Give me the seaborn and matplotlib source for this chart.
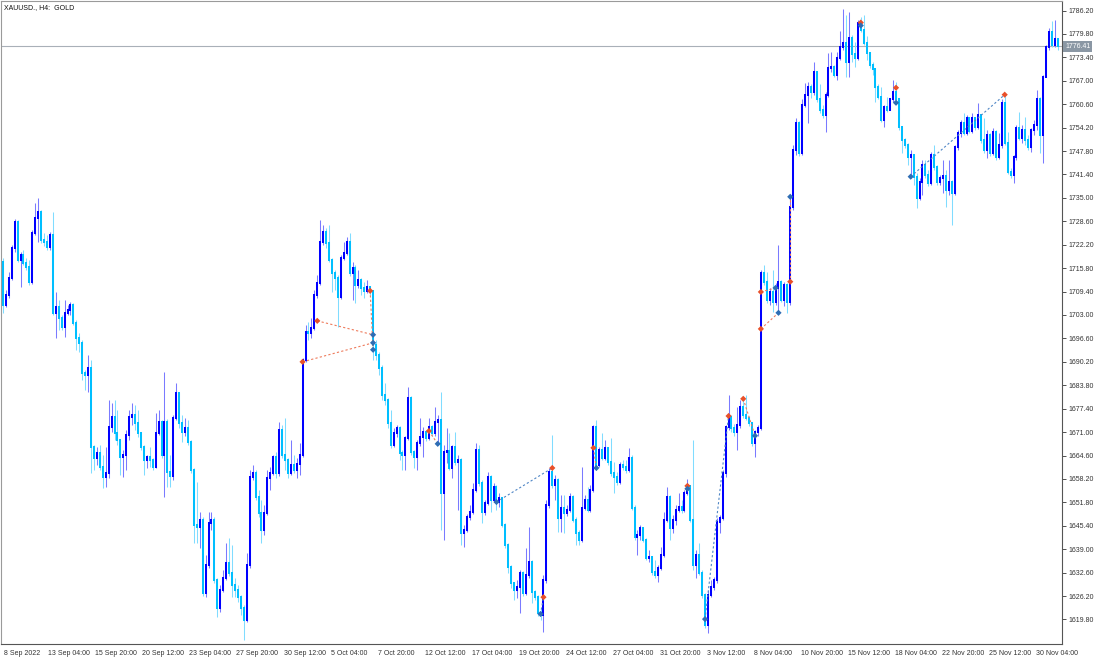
import numpy as np
import pandas as pd
import seaborn as sns
import matplotlib.pyplot as plt
from matplotlib.transforms import ScaledTranslation, blended_transform_factory

sns.set_theme(style='white')
plt.rcParams['font.family'] = ['Liberation Sans', 'DejaVu Sans']

symbol_title = 'XAUUSD., H4:  GOLD'
last_price = 1776.41
first_open = 1717.5

# H4 closes, 8 Sep 16:00 .. 1 Dec 12:00
closes = [
    1705.8, 1708.5, 1713.2, 1721.4, 1728.5, 1718.1, 1719.5, 1717.3, 1716.2, 1712.1,
    1725.5, 1729.6, 1731.2, 1723.6, 1723.0, 1721.6, 1724.9, 1703.6, 1705.2, 1702.2,
    1699.8, 1703.6, 1704.4, 1705.8, 1700.9, 1696.8, 1695.4, 1687.2, 1686.6, 1688.5,
    1666.9, 1663.9, 1665.3, 1661.5, 1658.7, 1659.8, 1672.4, 1675.2, 1670.8, 1668.9,
    1664.2, 1664.8, 1670.2, 1675.2, 1675.7, 1673.5, 1670.8,
    1666.9, 1663.4, 1664.2, 1663.4, 1661.5, 1670.8, 1673.8, 1664.8, 1673.8, 1660.1,
    1659.0, 1674.9, 1681.7, 1673.5, 1671.0, 1672.1, 1668.3, 1660.7, 1645.6, 1645.1,
    1647.0, 1627.0, 1634.7, 1646.2, 1647.0, 1630.6, 1622.9, 1627.8, 1631.1, 1635.2,
    1632.5, 1629.2, 1627.8, 1625.9, 1622.9, 1619.6, 1634.7, 1658.7, 1659.8, 1653.3,
    1648.9, 1644.2, 1648.9, 1658.5,
    1659.8, 1664.2, 1659.8, 1671.6, 1664.8, 1663.4, 1659.8, 1662.0, 1660.7, 1662.3,
    1664.8, 1690.7, 1698.4, 1698.1, 1699.5, 1708.5, 1711.8, 1723.0, 1725.7, 1722.7,
    1718.1, 1714.5, 1713.2, 1708.0, 1718.6, 1720.0, 1723.0, 1714.5, 1715.9, 1711.3,
    1712.6, 1710.4, 1709.6, 1710.7, 1709.6, 1694.8, 1692.1, 1688.5, 1681.2, 1679.8,
    1673.5, 1667.5, 1670.8, 1672.1,
    1665.3, 1664.8, 1669.4, 1680.3, 1665.6, 1664.2, 1668.0, 1669.7, 1671.0, 1669.4,
    1672.4, 1670.8, 1673.8, 1674.3, 1654.4, 1665.6, 1665.8, 1661.2, 1666.9, 1662.8,
    1663.4, 1643.4, 1644.2, 1647.8, 1649.2, 1655.2, 1666.1, 1657.1, 1649.2, 1651.6,
    1658.7, 1652.5, 1656.0, 1651.9, 1653.0, 1645.6, 1640.1, 1634.1, 1629.7, 1627.8,
    1628.7,
    1632.5, 1627.0, 1631.9, 1635.5, 1627.3, 1625.9, 1621.5, 1621.0, 1630.6, 1651.1,
    1660.1, 1656.6, 1657.9, 1647.5, 1650.3, 1648.9, 1649.7, 1653.3, 1647.0, 1643.4,
    1641.5, 1650.3, 1652.5, 1649.7, 1655.2, 1672.4, 1662.0, 1666.1, 1663.9, 1666.7,
    1662.8, 1659.8, 1658.7, 1657.4, 1662.0, 1661.5, 1660.7, 1663.9, 1650.3, 1642.3,
    1642.9, 1644.8, 1641.5, 1636.6, 1636.9, 1632.8,
    1631.9, 1633.9, 1637.4, 1647.0, 1653.3, 1644.8, 1647.0, 1649.7, 1650.5, 1649.7,
    1654.4, 1656.3, 1647.0, 1634.7, 1637.4, 1632.5, 1626.5, 1618.3, 1626.5, 1628.7,
    1630.6, 1646.4, 1647.5, 1659.8, 1672.4, 1675.2, 1672.1, 1671.0, 1672.9, 1677.9,
    1675.7, 1674.9, 1673.5, 1668.0, 1671.0, 1672.1, 1714.5,
    1712.1, 1707.2, 1709.3, 1706.6, 1710.4, 1712.1, 1707.2, 1711.3, 1706.6, 1732.6,
    1748.2, 1755.6, 1747.4, 1760.5, 1763.2, 1765.4, 1763.8, 1769.5, 1761.9, 1759.1,
    1757.7, 1763.2, 1770.6, 1770.9, 1768.7, 1773.3, 1776.3, 1777.4, 1772.2, 1778.8,
    1774.2, 1773.3, 1782.9, 1781.0, 1777.4, 1774.7, 1771.4, 1770.1, 1765.4, 1762.7,
    1756.4, 1759.9, 1759.1, 1761.9, 1763.8, 1761.9, 1754.5, 1750.9, 1749.5, 1746.3,
    1746.8, 1740.8,
    1735.0, 1739.4, 1744.1, 1741.3, 1739.1, 1746.8, 1743.5, 1739.4, 1740.5, 1741.1,
    1737.2, 1739.4, 1736.4, 1749.0, 1752.8, 1755.6, 1752.8, 1756.9, 1753.4, 1756.9,
    1754.5, 1757.7, 1750.9, 1748.2, 1752.3, 1747.4, 1753.1, 1746.3, 1749.5, 1761.0,
    1750.1, 1742.2, 1741.3, 1746.3, 1754.2, 1751.5, 1753.6, 1750.9, 1749.0, 1753.6,
    1755.0, 1761.9, 1752.3, 1768.1, 1776.1, 1780.2, 1776.9, 1778.3, 1776.4,
]

highs = [
    1718.6, 1709.9, 1714.8, 1722.2, 1729.3, 1729.0, 1720.3, 1720.8, 1718.6, 1718.1,
    1726.3, 1733.7, 1735.0, 1731.8, 1725.5, 1724.9, 1725.7, 1731.2, 1709.3, 1707.1,
    1703.0, 1707.1, 1705.8, 1706.6, 1706.3, 1701.7, 1698.1, 1696.2, 1688.0, 1692.1,
    1690.7, 1667.5, 1666.9, 1667.5, 1664.8, 1666.9, 1679.8, 1679.0, 1679.8, 1677.1,
    1668.9, 1666.1, 1671.6, 1677.1, 1679.0, 1678.4, 1677.1,
    1671.0, 1667.5, 1664.8, 1666.9, 1663.9, 1676.2, 1677.1, 1674.3, 1687.5, 1674.5,
    1664.8, 1675.7, 1684.4, 1681.7, 1675.7, 1674.9, 1674.3, 1668.9, 1661.2, 1657.4,
    1649.2, 1647.8, 1637.4, 1649.2, 1649.2, 1647.8, 1631.1, 1629.2, 1633.3, 1640.7,
    1642.1, 1640.1, 1631.1, 1629.2, 1626.5, 1623.7, 1638.0, 1660.7, 1662.0, 1660.7,
    1655.2, 1652.4, 1651.1, 1660.7,
    1661.5, 1664.8, 1665.6, 1673.8, 1673.0, 1674.9, 1663.9, 1668.9, 1664.8, 1663.9,
    1668.0, 1691.3, 1700.3, 1701.1, 1702.2, 1709.9, 1714.0, 1729.0, 1727.7, 1726.8,
    1727.7, 1718.6, 1715.4, 1714.0, 1719.5, 1723.0, 1724.4, 1725.5, 1717.5, 1716.7,
    1715.4, 1713.2, 1712.1, 1712.6, 1711.0, 1709.9, 1696.2, 1692.9, 1689.4, 1684.4,
    1680.3, 1677.1, 1672.1, 1673.0,
    1672.7, 1666.1, 1669.9, 1683.4, 1680.9, 1666.1, 1668.9, 1674.9, 1672.4, 1671.6,
    1674.9, 1673.0, 1677.9, 1675.7, 1682.0, 1667.5, 1672.1, 1670.8, 1667.5, 1671.0,
    1664.8, 1663.9, 1645.6, 1648.6, 1651.1, 1657.1, 1668.0, 1667.5, 1657.9, 1652.5,
    1660.1, 1659.3, 1657.1, 1656.6, 1654.4, 1653.3, 1646.2, 1640.7, 1634.7, 1629.7,
    1630.6,
    1633.3, 1633.0, 1639.3, 1645.1, 1636.0, 1627.8, 1626.5, 1622.9, 1631.9, 1652.5,
    1661.2, 1670.2, 1659.3, 1658.5, 1653.8, 1653.8, 1651.1, 1654.4, 1653.8, 1647.8,
    1644.2, 1661.5, 1653.8, 1656.0, 1656.6, 1673.0, 1674.3, 1666.9, 1670.8, 1668.9,
    1666.9, 1669.4, 1662.8, 1660.1, 1662.8, 1663.4, 1663.4, 1666.7, 1664.8, 1651.1,
    1644.2, 1645.6, 1644.8, 1642.1, 1638.8, 1637.1,
    1636.0, 1634.7, 1639.6, 1649.2, 1656.0, 1653.8, 1648.3, 1651.1, 1654.4, 1652.5,
    1655.2, 1658.2, 1656.6, 1668.9, 1638.8, 1640.7, 1633.3, 1627.0, 1627.8, 1630.6,
    1631.4, 1647.5, 1648.3, 1660.7, 1673.0, 1681.2, 1675.7, 1673.2, 1677.9, 1679.8,
    1680.1, 1681.2, 1675.4, 1673.8, 1671.6, 1673.0, 1715.4,
    1716.7, 1714.8, 1710.4, 1715.4, 1711.8, 1722.2, 1712.6, 1712.1, 1711.8, 1735.3,
    1749.5, 1756.9, 1756.0, 1761.9, 1766.5, 1766.8, 1766.0, 1772.2, 1769.5, 1766.0,
    1760.5, 1764.0, 1774.7, 1775.0, 1771.4, 1775.0, 1780.5, 1786.5, 1785.1, 1785.9,
    1779.5, 1777.7, 1783.7, 1784.3, 1785.1, 1779.1, 1775.0, 1772.2, 1770.1, 1766.0,
    1765.4, 1760.5, 1762.7, 1762.4, 1767.3, 1766.8, 1762.4, 1754.5, 1751.5, 1750.1,
    1748.2, 1747.0,
    1741.9, 1740.5, 1745.4, 1745.4, 1742.7, 1747.6, 1749.5, 1744.1, 1741.3, 1745.4,
    1742.7, 1745.4, 1740.0, 1749.5, 1753.6, 1756.4, 1758.3, 1757.7, 1756.9, 1758.3,
    1756.9, 1761.0, 1758.0, 1756.9, 1753.6, 1752.8, 1754.2, 1753.6, 1752.8, 1761.9,
    1763.2, 1753.1, 1743.2, 1746.8, 1755.0, 1758.6, 1755.0, 1757.2, 1752.3, 1754.2,
    1756.4, 1764.6, 1762.7, 1768.7, 1776.9, 1781.5, 1783.2, 1783.7, 1778.8,
]

lows = [
    1703.6, 1705.2, 1707.7, 1712.6, 1720.3, 1717.5, 1710.7, 1716.7, 1715.4, 1711.3,
    1711.5, 1724.9, 1723.0, 1722.7, 1721.9, 1720.8, 1720.8, 1703.0, 1696.8, 1698.9,
    1698.9, 1697.0, 1703.0, 1703.0, 1700.3, 1693.5, 1692.9, 1685.3, 1682.5, 1682.0,
    1659.8, 1660.7, 1662.0, 1660.7, 1655.7, 1656.0, 1658.5, 1671.0, 1668.9, 1667.5,
    1659.3, 1658.7, 1660.7, 1668.9, 1672.9, 1671.6, 1669.7,
    1666.1, 1659.3, 1661.2, 1661.5, 1660.7, 1661.2, 1670.2, 1663.9, 1653.3, 1656.0,
    1656.0, 1657.9, 1674.3, 1672.1, 1668.3, 1669.9, 1667.5, 1659.8, 1640.7, 1640.7,
    1639.3, 1626.2, 1625.9, 1633.9, 1644.2, 1629.7, 1620.5, 1621.8, 1627.3, 1630.6,
    1631.7, 1625.9, 1625.9, 1624.6, 1621.0, 1614.2, 1619.1, 1633.9, 1657.9, 1652.4,
    1647.8, 1640.7, 1642.9, 1648.4,
    1655.2, 1659.3, 1658.5, 1659.0, 1663.9, 1660.7, 1658.5, 1659.3, 1659.8, 1658.5,
    1659.3, 1664.2, 1690.2, 1696.2, 1696.8, 1698.9, 1707.7, 1711.3, 1722.2, 1721.4,
    1717.5, 1709.3, 1709.9, 1699.8, 1707.4, 1718.1, 1719.5, 1713.7, 1707.2, 1706.3,
    1710.4, 1708.5, 1707.7, 1709.1, 1708.5, 1690.7, 1690.7, 1686.6, 1679.8, 1678.4,
    1672.1, 1666.7, 1666.9, 1669.7,
    1663.4, 1660.7, 1660.7, 1668.9, 1664.8, 1661.2, 1660.7, 1667.2, 1664.2, 1668.6,
    1668.9, 1669.9, 1669.9, 1667.5, 1644.2, 1641.5, 1662.6, 1660.7, 1658.5, 1662.0,
    1649.7, 1640.1, 1639.6, 1643.7, 1647.0, 1648.6, 1654.6, 1656.3, 1646.2, 1648.4,
    1651.0, 1649.2, 1652.0, 1649.7, 1650.5, 1645.1, 1639.3, 1632.5, 1628.4, 1625.1,
    1625.6,
    1621.5, 1626.2, 1626.5, 1631.1, 1624.3, 1625.1, 1620.7, 1619.6, 1616.3, 1629.7,
    1650.3, 1655.7, 1652.5, 1643.7, 1643.7, 1643.4, 1648.1, 1649.2, 1646.4, 1640.1,
    1640.1, 1641.0, 1649.7, 1649.2, 1649.2, 1654.6, 1660.7, 1661.5, 1663.4, 1663.4,
    1662.0, 1659.0, 1654.4, 1656.6, 1656.8, 1660.7, 1659.8, 1660.1, 1649.7, 1641.5,
    1637.4, 1641.5, 1640.9, 1636.0, 1635.5, 1631.9,
    1631.1, 1630.0, 1633.3, 1636.9, 1646.4, 1641.5, 1643.4, 1645.6, 1649.2, 1648.9,
    1649.2, 1653.8, 1646.4, 1633.3, 1631.1, 1631.9, 1625.6, 1617.4, 1616.1, 1625.9,
    1627.8, 1629.7, 1643.4, 1647.0, 1658.7, 1671.6, 1671.0, 1669.9, 1666.1, 1672.1,
    1674.9, 1674.3, 1672.7, 1667.2, 1664.2, 1669.9, 1671.6,
    1711.3, 1706.3, 1705.8, 1703.9, 1705.8, 1703.6, 1706.6, 1705.5, 1703.6, 1705.8,
    1731.8, 1746.8, 1746.5, 1746.8, 1759.7, 1755.6, 1762.4, 1763.2, 1761.3, 1758.3,
    1756.9, 1753.1, 1762.7, 1769.5, 1767.9, 1767.3, 1772.8, 1775.5, 1767.9, 1768.1,
    1772.2, 1770.9, 1772.8, 1780.2, 1776.9, 1772.8, 1770.6, 1768.7, 1761.3, 1761.9,
    1755.8, 1754.5, 1758.6, 1759.1, 1761.3, 1761.0, 1753.6, 1747.4, 1748.7, 1744.1,
    1740.5, 1738.6,
    1732.3, 1734.5, 1735.9, 1740.5, 1738.3, 1738.6, 1742.7, 1738.6, 1738.6, 1736.4,
    1732.6, 1735.9, 1727.7, 1735.9, 1748.2, 1751.7, 1752.3, 1752.3, 1752.8, 1752.8,
    1753.6, 1753.9, 1750.1, 1747.4, 1746.0, 1746.5, 1746.8, 1745.4, 1745.7, 1748.7,
    1749.5, 1741.6, 1740.5, 1739.1, 1745.4, 1750.9, 1750.1, 1749.5, 1748.2, 1747.6,
    1752.3, 1753.6, 1747.4, 1744.6, 1767.9, 1775.5, 1776.1, 1776.3, 1775.5,
]

date_labels = ['8 Sep 2022', '13 Sep 04:00', '15 Sep 20:00', '20 Sep 12:00', '23 Sep 04:00',
               '27 Sep 20:00', '30 Sep 12:00', '5 Oct 04:00', '7 Oct 20:00', '12 Oct 12:00',
               '17 Oct 04:00', '19 Oct 20:00', '24 Oct 12:00', '27 Oct 04:00', '31 Oct 20:00',
               '3 Nov 12:00', '8 Nov 04:00', '10 Nov 20:00', '15 Nov 12:00', '18 Nov 04:00',
               '22 Nov 20:00', '25 Nov 12:00', '30 Nov 04:00']
date_label_bars = [0, 15, 31, 47, 63, 79, 95, 111, 127, 143, 159, 175, 191, 207, 223,
                   239, 255, 271, 287, 303, 319, 335, 351]
price_ticks = [1619.80, 1626.20, 1632.60, 1639.00, 1645.40, 1651.80, 1658.20, 1664.60,
               1671.00, 1677.40, 1683.80, 1690.20, 1696.60, 1703.00, 1709.40, 1715.80,
               1722.20, 1728.60, 1735.00, 1741.40, 1747.80, 1754.20, 1760.60, 1767.00,
               1773.40, 1779.80, 1786.20]

# trade history arrows
sell_bars = [102, 107, 125, 145, 184, 187, 201, 233, 247, 252, 258, 258, 268, 292, 304, 341]
sell_prices = [1690.2, 1701.4, 1709.6, 1671.3, 1625.9, 1661.2, 1666.7, 1656.3, 1675.4,
               1680.1, 1709.3, 1699.2, 1712.1, 1782.9, 1765.1, 1763.2]
buy_bars = [126, 126, 126, 148, 168, 183, 202, 233, 239, 256, 263, 264, 268, 292, 304, 309]
buy_prices = [1697.6, 1695.4, 1693.5, 1667.8, 1651.9, 1621.3, 1661.2, 1655.5, 1619.9,
              1670.0, 1710.4, 1703.6, 1735.3, 1782.1, 1761.0, 1740.8]

line_from_bar = [102, 107, 125, 145, 168, 183, 201, 239, 252, 258, 258, 268, 309]
line_from_price = [1690.2, 1701.4, 1709.6, 1671.3, 1651.9, 1621.3, 1666.7, 1619.9,
                   1680.1, 1699.2, 1709.3, 1712.1, 1740.8]
line_to_bar = [126, 126, 126, 148, 187, 184, 202, 247, 256, 264, 263, 268, 341]
line_to_price = [1695.4, 1697.6, 1693.5, 1667.8, 1661.2, 1625.9, 1661.2, 1675.4,
                 1670.0, 1703.6, 1710.4, 1735.3, 1763.2]
line_kind = ['sell', 'sell', 'sell', 'sell', 'buy', 'buy', 'sell', 'buy', 'sell',
             'sell', 'sell', 'sell', 'buy']

bars = pd.DataFrame({'close': closes, 'high': highs, 'low': lows})
bars['open'] = [first_open] + closes[:-1]
bars['bar'] = np.arange(len(bars))
up = bars['close'] >= bars['open']

fig = plt.figure(figsize=(11, 6.6), dpi=100)
ax = fig.add_axes([1 / 1100, 16 / 660, 1061 / 1100, 643 / 660])
ax.set_facecolor('white')

# wicks then bodies
ax.vlines(bars['bar'][up], bars['low'][up], bars['high'][up], color='#7a7aff', lw=0.75)
ax.vlines(bars['bar'][~up], bars['low'][~up], bars['high'][~up], color='#80dcff', lw=0.75)
b1 = ax.vlines(bars['bar'][up], bars['open'][up], bars['close'][up], color='#0000ff', lw=1.45)
b2 = ax.vlines(bars['bar'][~up], bars['open'][~up], bars['close'][~up], color='#00bfff', lw=1.45)
for b in (b1, b2):
    b.set_capstyle('projecting')

# trade lines and arrows
for x0, y0, x1, y1, k in zip(line_from_bar, line_from_price, line_to_bar, line_to_price, line_kind):
    ax.plot([x0, x1], [y0, y1], color='#ee7b5c' if k == 'sell' else '#4f86c6',
            lw=0.8, ls=(0, (2, 2)))
sns.scatterplot(x=sell_bars, y=sell_prices, marker='D', s=10, color='#e8502a',
                edgecolor='none', ax=ax, zorder=5)
sns.scatterplot(x=buy_bars, y=buy_prices, marker='D', s=10, color='#2e6db4',
                edgecolor='none', ax=ax, zorder=5)

ax.axhline(last_price, color='#a9b0b8', lw=0.8, zorder=0)

ax.set_xlim(-0.65, 360.5)
ax.set_ylim(1613.1, 1788.8)

ax.yaxis.tick_right()
ax.set_yticks(price_ticks)
ax.set_yticklabels(['%.2f' % p for p in price_ticks])
ax.set_xticks(date_label_bars)
ax.set_xticklabels(date_labels, ha='left')
ax.tick_params(axis='both', labelsize=5.0, colors='#333333', length=3, width=0.6,
               direction='out', pad=1.5)
shift = ScaledTranslation(1.5 / 100, 0, fig.dpi_scale_trans)
for lab in ax.get_xticklabels():
    lab.set_transform(lab.get_transform() + shift)
ax.set_xlabel('')
ax.set_ylabel('')

for side in ['top', 'left']:
    ax.spines[side].set_color('#9a9a9a')
    ax.spines[side].set_linewidth(0.8)
for side in ['right', 'bottom']:
    ax.spines[side].set_color('#555555')
    ax.spines[side].set_linewidth(0.8)

trans = blended_transform_factory(ax.transAxes, ax.transData)
ax.text(1.003, last_price, '%.2f' % last_price, transform=trans, fontsize=5.0,
        color='white', ha='left', va='center', zorder=10,
        bbox=dict(boxstyle='square,pad=0.25', fc='#8a97a4', ec='none'))
ax.text(0.003, 0.996, symbol_title, transform=ax.transAxes, ha='left', va='top',
        fontsize=5.0, color='#111111')

fig.savefig('out.png', dpi=100, facecolor='white')
